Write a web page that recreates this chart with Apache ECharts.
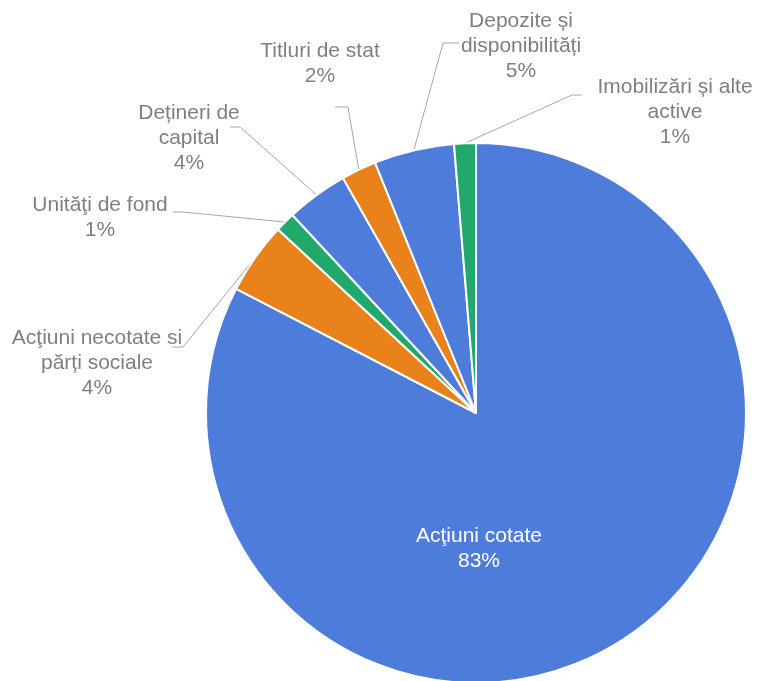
<!DOCTYPE html>
<html>
<head>
<meta charset="utf-8">
<script src="https://cdn.jsdelivr.net/npm/echarts@6/dist/echarts.min.js"></script>
<style>
html,body{margin:0;padding:0;background:#fff;}
#chart{width:761px;height:681px;}
</style>
</head>
<body>
<div id="chart"></div>
<script>
// Data
const categories = [
  'Acţiuni cotate',
  'Acţiuni necotate si\npărți sociale',
  'Unităţi de fond',
  'Dețineri de\ncapital',
  'Titluri de stat',
  'Depozite și\ndisponibilități',
  'Imobilizări și alte\nactive'
];
const values = [82.6, 4.3, 1.2, 3.7, 2.1, 4.8, 1.3];
const colors = ['#4D7CDB', '#E9821B', '#20A96B', '#4D7CDB', '#E9821B', '#4D7CDB', '#20A96B'];

// Label placement (label centre, elbow point, end point of leader)
const labelPos = [
  { c: [479, 549] },
  { c: [97, 363],  elbow: [183, 347], end: [172, 347] },
  { c: [100, 218], elbow: [183, 212], end: [173, 212] },
  { c: [189, 138], elbow: [240, 127], end: [230, 127] },
  { c: [320, 64],  elbow: [348, 107], end: [335, 107] },
  { c: [521, 46],  elbow: [443, 43],  end: [459, 43] },
  { c: [675, 112], elbow: [572, 95],  end: [582, 95] }
];

const chart = echarts.init(document.getElementById('chart'), null, { renderer: 'canvas' });
const data = categories.map((n, i) => ({
  name: n,
  value: values[i],
  itemStyle: { color: colors[i] },
  label: i === 0 ? { color: '#ffffff' } : {},
  labelLine: i === 0 ? { show: false } : { show: true }
}));

chart.setOption({
  animation: false,
  series: [{
    type: 'pie',
    center: [476, 413],
    radius: [0, 270],
    startAngle: 90,
    clockwise: true,
    avoidLabelOverlap: false,
    itemStyle: { borderColor: '#ffffff', borderWidth: 2 },
    label: {
      show: true,
      position: 'outside',
      formatter: function (p) { return p.name + '\n' + Math.round(p.percent) + '%'; },
      color: '#7f7f7f',
      fontSize: 21,
      lineHeight: 25,
      fontFamily: '"Liberation Sans", Arial, sans-serif',
      align: 'center'
    },
    labelLine: { lineStyle: { color: '#a6a6a6', width: 1 }, length: 10, length2: 10 },
    labelLayout: function (params) {
      const p = labelPos[params.dataIndex];
      const res = { x: p.c[0], y: p.c[1], align: 'center', verticalAlign: 'middle' };
      if (p.elbow && params.labelLinePoints) {
        const s = params.labelLinePoints[0];
        res.labelLinePoints = [[s[0], s[1]], p.elbow, p.end];
      }
      return res;
    },
    emphasis: { disabled: true },
    data: data
  }]
});
</script>
</body>
</html>
